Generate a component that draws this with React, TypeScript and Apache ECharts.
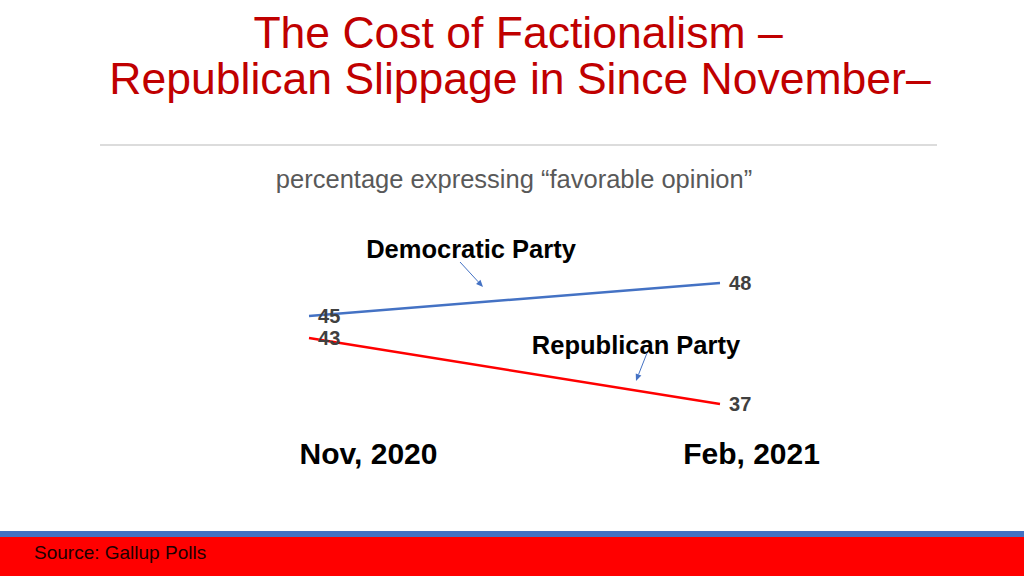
import React, { useEffect, useRef } from "react";
import * as echarts from "echarts";

const periods = ["Nov, 2020", "Feb, 2021"];
const democratic = [45, 48];
const republican = [43, 37];
const seriesNames = ["Democratic Party", "Republican Party"];

const FONT = "Liberation Sans, Arial, sans-serif";

function arrow(x1: number, y1: number, x2: number, y2: number, color: string) {
  const ang = Math.atan2(y2 - y1, x2 - x1);
  const L = 7, W = 3;
  const bx = x2 - L * Math.cos(ang), by = y2 - L * Math.sin(ang);
  const px = -Math.sin(ang) * W, py = Math.cos(ang) * W;
  return [
    { type: "line", shape: { x1, y1, x2: bx, y2: by }, style: { stroke: color, lineWidth: 1 } },
    { type: "polygon", shape: { points: [[x2, y2], [bx + px, by + py], [bx - px, by - py]] }, style: { fill: color } },
  ];
}

export default function App() {
  const ref = useRef<HTMLDivElement>(null);
  useEffect(() => {
    const chart = echarts.init(ref.current!, null, { renderer: "svg" });
    const labelStyle = { color: "#404040", fontSize: 20, fontWeight: "bold", fontFamily: FONT };
    chart.setOption({
      animation: false,
      backgroundColor: "#ffffff",
      grid: { left: 309, right: 304, top: 261, bottom: 576 - 415 },
      xAxis: {
        type: "category",
        data: periods,
        boundaryGap: false,
        axisLine: { show: false },
        axisTick: { show: false },
        splitLine: { show: false },
        axisLabel: {
          margin: 23,
          interval: 0,
          formatter: (v: string, i: number) => (i === 0 ? `{a|${v}}` : `{b|${v}}`),
          rich: {
            a: { fontSize: 30, fontWeight: "bold", color: "#000", fontFamily: FONT, padding: [0, 0, 0, 119] },
            b: { fontSize: 30, fontWeight: "bold", color: "#000", fontFamily: FONT, padding: [0, 0, 0, 63] },
          },
        },
      },
      yAxis: { type: "value", min: 36, max: 50, show: false, splitLine: { show: false } },
      series: [
        {
          name: seriesNames[0],
          type: "line",
          data: democratic,
          symbol: "circle",
          symbolSize: 0.01,
          showSymbol: true,
          clip: false,
          itemStyle: { color: "#4472C4" },
          lineStyle: { color: "#4472C4", width: 2.5 },
          label: { show: true, position: "right", distance: 9, ...labelStyle },
        },
        {
          name: seriesNames[1],
          type: "line",
          data: republican,
          symbol: "circle",
          symbolSize: 0.01,
          showSymbol: true,
          clip: false,
          itemStyle: { color: "#FF0000" },
          lineStyle: { color: "#FF0000", width: 2.5 },
          label: { show: true, position: "right", distance: 9, ...labelStyle },
        },
      ],
      graphic: [
        { type: "text", x: 518, y: 32, style: { text: "The Cost of Factionalism –", fontSize: 44.5, fill: "#C00000", align: "center", verticalAlign: "middle", fontFamily: FONT } },
        { type: "text", x: 520, y: 78, style: { text: "Republican Slippage in Since November–", fontSize: 44.5, fill: "#C00000", align: "center", verticalAlign: "middle", fontFamily: FONT } },
        { type: "line", shape: { x1: 100, y1: 145, x2: 937, y2: 145 }, style: { stroke: "#D0D0D0", lineWidth: 1.5 } },
        { type: "text", x: 514, y: 179, style: { text: "percentage expressing “favorable opinion”", fontSize: 25.5, fill: "#595959", align: "center", verticalAlign: "middle", fontFamily: FONT } },
        { type: "text", x: 471, y: 249, style: { text: seriesNames[0], fontSize: 25.5, fontWeight: "bold", fill: "#000", align: "center", verticalAlign: "middle", fontFamily: FONT } },
        { type: "text", x: 636, y: 345, style: { text: seriesNames[1], fontSize: 25.5, fontWeight: "bold", fill: "#000", align: "center", verticalAlign: "middle", fontFamily: FONT } },
        ...arrow(460, 262, 483, 287, "#4472C4"),
        ...arrow(647, 353, 636, 381, "#4472C4"),
        { type: "rect", shape: { x: 0, y: 531, width: 1024, height: 7 }, style: { fill: "#4472C4" } },
        { type: "rect", shape: { x: 0, y: 537, width: 1024, height: 39 }, style: { fill: "#FF0000" } },
        { type: "text", x: 34, y: 552, style: { text: "Source: Gallup Polls", fontSize: 19, fill: "#200000", verticalAlign: "middle", fontFamily: FONT } },
      ],
    });
    return () => chart.dispose();
  }, []);
  return <div ref={ref} style={{ position: "fixed", left: 0, top: 0, width: 1024, height: 576 }} />;
}
